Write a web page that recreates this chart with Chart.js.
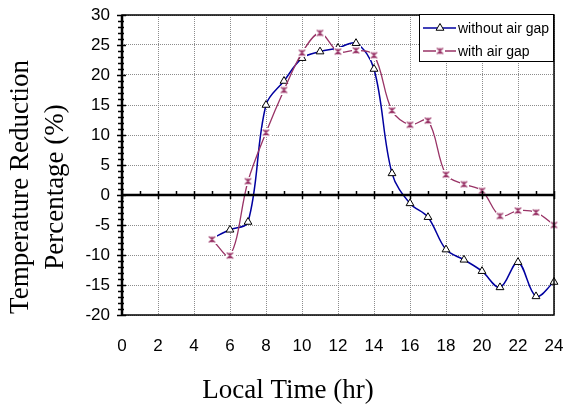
<!DOCTYPE html>
<html>
<head>
<meta charset="utf-8">
<script src="https://cdn.jsdelivr.net/npm/chart.js@4.4.0/dist/chart.umd.min.js"></script>
<style>
  html, body { margin: 0; padding: 0; background: #fff; }
  #wrap { width: 564px; height: 410px; position: relative; }
</style>
</head>
<body>
<div id="wrap"><canvas id="chart" width="564" height="410"></canvas></div>
<script>
// data
const hours = [5, 6, 7, 8, 9, 10, 11, 12, 13, 14, 15, 16, 17, 18, 19, 20, 21, 22, 23, 24];
const withoutGap = [-7.2, -5.8, -4.5, 15.0, 19.0, 22.8, 23.9, 24.5, 25.3, 21.0, 3.6, -1.4, -3.7, -9.1, -10.8, -12.7, -15.4, -11.2, -16.9, -14.5];
const withGap = [-7.4, -10.1, 2.3, 10.4, 17.5, 23.7, 27.0, 23.9, 24.1, 23.3, 14.1, 11.7, 12.4, 3.4, 1.8, 0.7, -3.5, -2.6, -2.9, -5.0];
const seriesNames = ['without air gap', 'with air gap'];
const xRange = [0, 24, 2];
const yRange = [-20, 30, 5];
const xTitle = 'Local Time (hr)';
const yTitle = ['Temperature Reduction', 'Percentage (%)'];

const BLUE = '#0000a0';
const PLUM = '#993366';
const SANS = '"Liberation Sans", Arial, sans-serif';
const SERIF = '"Liberation Serif", "Times New Roman", serif';

// excel-like star marker with white background
function makeStar() {
    const c = document.createElement('canvas');
    c.width = 9; c.height = 9;
    const g = c.getContext('2d');
    g.fillStyle = '#fff';
    g.fillRect(0, 0, 9, 9);
    g.strokeStyle = PLUM;
    g.lineWidth = 1.3;
    g.beginPath();
    g.moveTo(1.5, 1.5); g.lineTo(7.5, 7.5);
    g.moveTo(7.5, 1.5); g.lineTo(1.5, 7.5);
    g.moveTo(4.5, 1.5); g.lineTo(4.5, 7.5);
    g.stroke();
    return c;
}
const starMarker = makeStar();

const toPoints = (ys) => ys.map((y, i) => ({ x: hours[i], y: y }));

// frame, zero axis with tick marks, titles, legend
const decorPlugin = {
    id: 'decor',
    afterDraw(chart) {
        const ctx = chart.ctx;
        const a = chart.chartArea;
        const xs = chart.scales.x;
        const ys = chart.scales.y;
        const y0 = ys.getPixelForValue(0);

        ctx.save();
        ctx.strokeStyle = '#000';

        // plot frame
        ctx.lineWidth = 1.5;
        ctx.strokeRect(a.left, a.top, a.right - a.left, a.bottom - a.top);

        // left axis
        ctx.lineWidth = 2.5;
        ctx.beginPath();
        ctx.moveTo(a.left, a.top);
        ctx.lineTo(a.left, a.bottom);
        ctx.stroke();

        // zero line
        ctx.beginPath();
        ctx.moveTo(a.left, y0);
        ctx.lineTo(a.right, y0);
        ctx.stroke();

        // tick marks
        ctx.lineWidth = 1.5;
        ctx.beginPath();
        for (let v = yRange[0]; v <= yRange[1]; v++) {
            const py = Math.round(ys.getPixelForValue(v)) + 0.5;
            const major = v % yRange[2] === 0;
            ctx.moveTo(a.left - (major ? 5 : 4), py);
            ctx.lineTo(a.left + (major ? 4 : 2), py);
        }
        for (let h = xRange[0]; h <= xRange[1]; h++) {
            const px = Math.round(xs.getPixelForValue(h)) + 0.5;
            const major = h % xRange[2] === 0;
            ctx.moveTo(px, y0 - 4);
            ctx.lineTo(px, major ? y0 + 4 : y0);
        }
        ctx.stroke();

        // axis titles
        ctx.fillStyle = '#000';
        ctx.font = '27px ' + SERIF;
        ctx.textAlign = 'center';
        ctx.textBaseline = 'alphabetic';
        ctx.fillText(xTitle, 288, 398);
        [28, 63].forEach((bx, i) => {
            ctx.save();
            ctx.translate(bx, 187);
            ctx.rotate(-Math.PI / 2);
            ctx.fillText(yTitle[i], 0, 0);
            ctx.restore();
        });

        // legend
        const lx = 419, ly = 14, lw = 134, lh = 47;
        ctx.fillStyle = '#fff';
        ctx.fillRect(lx, ly, lw, lh);
        ctx.lineWidth = 1;
        ctx.strokeStyle = '#000';
        ctx.strokeRect(lx + 0.5, ly + 0.5, lw, lh);

        const rows = [
            { name: seriesNames[0], color: BLUE, y: ly + 14 },
            { name: seriesNames[1], color: PLUM, y: ly + 37 }
        ];
        rows.forEach((r, i) => {
            ctx.strokeStyle = r.color;
            ctx.lineWidth = 1.3;
            ctx.beginPath();
            ctx.moveTo(lx + 4, r.y);
            ctx.lineTo(lx + 37, r.y);
            ctx.stroke();
            if (i === 0) {
                ctx.fillStyle = '#fff';
                ctx.strokeStyle = '#000';
                ctx.lineWidth = 1;
                Chart.helpers.drawPoint(ctx, { pointStyle: 'triangle', radius: 4.5, rotation: 0, borderWidth: 1 }, lx + 21, r.y);
            } else {
                ctx.drawImage(starMarker, lx + 21 - 4.5, r.y - 4.5);
            }
            ctx.fillStyle = '#000';
            ctx.font = '14px ' + SANS;
            ctx.textAlign = 'left';
            ctx.textBaseline = 'middle';
            ctx.fillText(r.name, lx + 39, r.y + 1);
        });

        ctx.restore();
    }
};

const ctx = document.getElementById('chart').getContext('2d');
new Chart(ctx, {
    type: 'line',
    data: {
        datasets: [
            {
                label: seriesNames[0],
                data: toPoints(withoutGap),
                borderColor: BLUE,
                borderWidth: 1.5,
                tension: 0.35,
                pointStyle: 'triangle',
                pointRadius: hours.map((h, i) => i === 0 ? 0 : 4.5),
                pointBackgroundColor: '#fff',
                pointBorderColor: '#000',
                pointBorderWidth: 1,
                clip: false,
                order: 2
            },
            {
                label: seriesNames[1],
                data: toPoints(withGap),
                borderColor: PLUM,
                borderWidth: 1.3,
                tension: 0.35,
                pointStyle: starMarker,
                pointRadius: 4,
                clip: false,
                order: 1
            }
        ]
    },
    options: {
        responsive: false,
        animation: false,
        events: [],
        layout: { padding: { left: 0, top: 15, right: 10, bottom: 0 } },
        plugins: {
            legend: { display: false },
            tooltip: { enabled: false }
        },
        scales: {
            x: {
                type: 'linear',
                min: xRange[0],
                max: xRange[1],
                afterFit(scale) {
                    scale.height = 95;
                    scale.paddingLeft = 0;
                    scale.paddingRight = 0;
                },
                ticks: {
                    stepSize: xRange[2],
                    autoSkip: false,
                    maxRotation: 0,
                    padding: 21,
                    color: '#000',
                    font: { family: SANS, size: 17 }
                },
                grid: { color: '#8c8c8c', lineWidth: 1, drawTicks: false },
                border: { display: false, dash: [1, 1] }
            },
            y: {
                min: yRange[0],
                max: yRange[1],
                afterFit(scale) {
                    scale.width = 122;
                    scale.paddingTop = 0;
                    scale.paddingBottom = 0;
                },
                ticks: {
                    stepSize: yRange[2],
                    padding: 12,
                    color: '#000',
                    font: { family: SANS, size: 17 }
                },
                grid: { color: '#8c8c8c', lineWidth: 1, drawTicks: false },
                border: { display: false, dash: [1, 1] }
            }
        }
    },
    plugins: [decorPlugin]
});
</script>
</body>
</html>
